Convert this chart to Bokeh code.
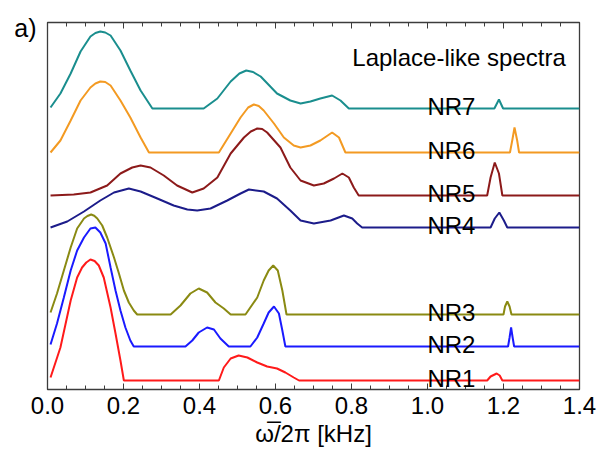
from bokeh.plotting import figure
from bokeh.models import Range1d, LinearAxis, FixedTicker, CustomJSTickFormatter
from bokeh.models import Label
from bokeh.embed import file_html
from bokeh.resources import INLINE

# Laplace-like spectra of seven samples, each drawn above its own baseline.
# x: frequency in kHz, h: spectral intensity above the baseline (arb. units)
nr1_x = [0.008, 0.034, 0.061, 0.078, 0.091, 0.102, 0.113, 0.124, 0.135, 0.148, 0.166, 0.179,
         0.192, 0.201, 0.451, 0.464, 0.482, 0.503, 0.526, 0.552, 0.578, 0.604, 0.626, 0.648,
         0.662, 1.157, 1.166, 1.182, 1.19, 1.197, 1.4]
nr1_h = [3, 33, 80, 103, 113, 118, 121, 119.5, 115, 103, 73, 47,
         20, 0, 0, 13, 22, 25, 23, 18, 14, 12, 8, 3,
         0, 0, 4, 7, 5, 0, 0]

nr2_x = [0.008, 0.025, 0.043, 0.061, 0.078, 0.096, 0.113, 0.126, 0.139, 0.153, 0.166, 0.179,
         0.192, 0.205, 0.218, 0.227, 0.363, 0.381, 0.398, 0.42, 0.438, 0.455, 0.477,
         0.534, 0.552, 0.569, 0.582, 0.596, 0.609, 0.618, 0.626,
         1.212, 1.216, 1.220, 1.224, 1.228, 1.4]
nr2_h = [2, 23, 49, 76, 96, 109, 118, 119, 114, 103, 79, 56,
         36, 19, 6, 0, 0, 6, 14, 19, 17, 8, 0,
         0, 9, 23, 34, 40, 33, 16, 0,
         0, 9, 19, 9, 0, 0]

nr3_x = [0.008, 0.025, 0.043, 0.061, 0.078, 0.096, 0.105, 0.115, 0.123, 0.131, 0.144, 0.157,
         0.175, 0.188, 0.201, 0.214, 0.227, 0.236, 0.324, 0.35, 0.376, 0.398, 0.42, 0.442,
         0.464, 0.482, 0.521, 0.552, 0.569, 0.582, 0.594, 0.606, 0.618, 0.629,
         1.200, 1.204, 1.21, 1.216, 1.221, 1.4]
nr3_h = [2, 21, 44, 67, 86, 96, 98.5, 100, 98.8, 96, 89, 77,
         57, 41, 24, 12, 4, 0, 0, 9, 21, 26, 22, 12,
         6, 0, 0, 17, 34, 44, 49, 44, 24, 0,
         0, 8, 13, 8, 0, 0]

nr4_x = [0.008, 0.052, 0.096, 0.139, 0.175, 0.214, 0.245, 0.289, 0.332, 0.368, 0.394, 0.429,
         0.473, 0.508, 0.53, 0.569, 0.604, 0.639, 0.666, 0.701, 0.745, 0.78, 0.802, 0.815, 0.828,
         1.166, 1.177, 1.189, 1.201, 1.21, 1.4]
nr4_h = [0, 6, 16, 27, 35, 39, 36, 29, 22, 18, 17, 19,
         27, 34, 38, 36, 29, 17, 7, 4, 7, 12, 9, 4, 0,
         0, 9, 15, 7, 0, 0]

nr5_x = [0.008, 0.069, 0.113, 0.157, 0.192, 0.223, 0.245, 0.271, 0.306, 0.341, 0.381, 0.411,
         0.447, 0.482, 0.517, 0.535, 0.552, 0.565, 0.578, 0.613, 0.639, 0.666, 0.701, 0.727,
         0.754, 0.776, 0.793, 0.806, 0.819, 1.157, 1.166, 1.177, 1.188, 1.197, 1.4]
nr5_h = [0, 1, 3, 10, 22, 28, 30, 28, 20, 10, 3, 7,
         18, 42, 58, 64, 67, 66.5, 63, 48, 28, 15, 10, 12,
         17, 22, 18, 8, 0, 0, 18, 33, 22, 0, 0]

nr6_x = [0.008, 0.034, 0.061, 0.087, 0.113, 0.126, 0.139, 0.152, 0.166, 0.192, 0.218, 0.245,
         0.267, 0.451, 0.482, 0.508, 0.528, 0.543, 0.556, 0.569, 0.596, 0.622, 0.648, 0.666,
         0.692, 0.718, 0.749, 0.767, 0.784, 1.217, 1.223, 1.229, 1.236, 1.241, 1.4]
nr6_h = [0, 12, 32, 52, 65, 69, 71, 70.5, 67, 52, 35, 15,
         0, 0, 19, 35, 45, 48, 46.5, 42, 29, 15, 7, 5,
         7, 12, 20, 15, 0, 0, 12, 25, 12, 0, 0]

nr7_x = [0.008, 0.034, 0.061, 0.087, 0.113, 0.126, 0.139, 0.152, 0.166, 0.192, 0.218, 0.245,
         0.276, 0.411, 0.447, 0.482, 0.505, 0.523, 0.541, 0.561, 0.604, 0.639, 0.666, 0.692,
         0.718, 0.749, 0.771, 0.793, 1.176, 1.188, 1.199, 1.4]
nr7_h = [1, 15, 35, 57, 72, 75.5, 77, 76, 73, 58, 38, 18,
         0, 0, 10, 27, 35, 38, 36.5, 32, 15, 8, 5, 7,
         10, 13, 8, 0, 0, 9, 0, 0]

names = ["NR1", "NR2", "NR3", "NR4", "NR5", "NR6", "NR7"]
offsets = [9, 43, 75, 162, 194, 237, 281]
colors = ["#FF1A1A", "#1A1AFF", "#8A8A12", "#1C1C8A", "#8C1A1A", "#F39A22", "#1A8E8E"]
spectra = [(nr1_x, nr1_h), (nr2_x, nr2_h), (nr3_x, nr3_h), (nr4_x, nr4_h),
           (nr5_x, nr5_h), (nr6_x, nr6_h), (nr7_x, nr7_h)]
tick_values = [0.0, 0.2, 0.4, 0.6, 0.8, 1.0, 1.2, 1.4]
tick_labels = ["0.0", "0.2", "0.4", "0.6", "0.8", "1.0", "1.2", "1.4"]
minor_values = [round(0.05 * i, 2) for i in range(29)]

FONT = "Liberation Sans"
FRAME = "#3c3c3c"

p = figure(width=598, height=459, output_backend="svg", toolbar_location=None,
           x_range=Range1d(0.0, 1.4), y_range=Range1d(0, 367),
           min_border_left=47, min_border_right=19, min_border_top=22, min_border_bottom=70)
p.background_fill_color = "white"
p.border_fill_color = "white"
p.outline_line_color = FRAME
p.outline_line_width = 1.3
p.xgrid.visible = False
p.ygrid.visible = False

# bottom axis: inward ticks, labelled every 0.2 kHz
xa = p.xaxis[0]
xa.ticker = FixedTicker(ticks=tick_values, minor_ticks=minor_values)
xa.major_label_overrides = {v: s for v, s in zip(tick_values, tick_labels)}
xa.major_tick_in = 6
xa.major_tick_out = 0
xa.minor_tick_in = 4
xa.minor_tick_out = 0
xa.axis_line_color = FRAME
xa.major_tick_line_color = FRAME
xa.minor_tick_line_color = FRAME
xa.major_label_text_font = FONT
xa.major_label_text_font_size = "24px"
xa.major_label_text_color = "black"
xa.major_label_standoff = 7
xa.axis_label = "ω\u0305/2π [kHz]"
xa.axis_label_text_font = FONT
xa.axis_label_text_font_size = "24px"
xa.axis_label_text_font_style = "normal"
xa.axis_label_text_color = "black"
xa.axis_label_standoff = 3

# top axis: ticks only
top = LinearAxis(ticker=FixedTicker(ticks=tick_values, minor_ticks=minor_values),
                 formatter=CustomJSTickFormatter(code="return '';"),
                 major_tick_in=6, major_tick_out=0, minor_tick_in=4, minor_tick_out=0,
                 major_label_standoff=0, axis_line_color=FRAME,
                 major_tick_line_color=FRAME, minor_tick_line_color=FRAME)
p.add_layout(top, "above")

# left axis carries only the panel tag
ya = p.yaxis[0]
ya.ticker = FixedTicker(ticks=[362], minor_ticks=[])
ya.major_label_overrides = {362: "a)"}
ya.axis_line_color = None
ya.major_tick_line_color = None
ya.minor_tick_line_color = None
ya.major_label_text_font = FONT
ya.major_label_text_font_size = "25px"
ya.major_label_text_color = "black"
ya.major_label_standoff = 5

for (xs, hs), off, c, name in zip(spectra, offsets, colors, names):
    p.line(xs, [off + h for h in hs], line_color=c, line_width=2)
    p.add_layout(Label(x=1.063, y=off + 2, text=name, text_align="center",
                       text_baseline="alphabetic", text_font=FONT,
                       text_font_size="24px", text_color="black"))

p.add_layout(Label(x=1.083, y=332, text="Laplace-like spectra", text_align="center",
                   text_baseline="alphabetic", text_font=FONT, text_font_size="24px",
                   text_color="black"))

open("out.html", "w").write(file_html(p, INLINE))
